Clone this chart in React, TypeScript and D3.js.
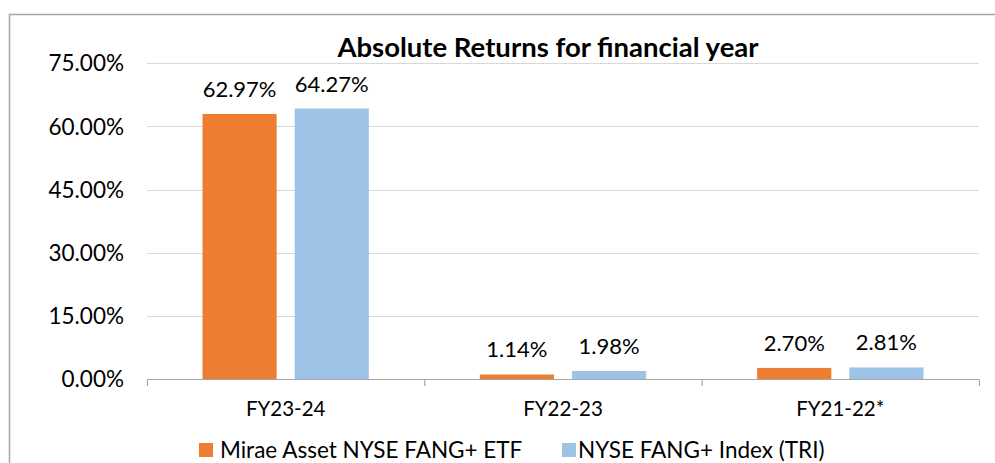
import React from 'react';
import * as d3 from 'd3';

const categories = ['FY23-24', 'FY22-23', 'FY21-22*'];
const seriesNames = ['Mirae Asset NYSE FANG+ ETF', 'NYSE FANG+ Index (TRI)'];
const etfValues = [62.97, 1.14, 2.7];
const indexValues = [64.27, 1.98, 2.81];
const yTicks = [0, 15, 30, 45, 60, 75];
const colors = ['#ED7D31', '#9DC3E6'];

const W = 995;
const H = 463;
const FONT = 'Lato, "Open Sans", sans-serif';

const App = () => {
  const x = d3.scaleBand().domain(categories).range([147, 979]).padding(0);
  const inner = d3
    .scaleBand()
    .domain(seriesNames)
    .range([55.5, x.bandwidth() - 55.5])
    .paddingInner(0.1957)
    .paddingOuter(0);
  const y = d3.scaleLinear().domain([0, 75]).range([379.3, 63.3]);

  const series = [etfValues, indexValues];
  const legendPos = [
    { sx: 199, tx: 220 },
    { sx: 562, tx: 578 },
  ];

  return (
    <svg width={W} height={H} style={{ position: 'absolute', left: 0, top: 0, display: 'block' }}>
      <rect x={0} y={0} width={W} height={H} fill="#fff" />
      <rect x={9.5} y={14.5} width={1100} height={600} fill="none" stroke="#A6A6A6" strokeWidth={1.5} />

      <text x={548} y={57} textAnchor="middle" fontFamily={FONT} fontWeight="bold" fontSize={27.5} fill="#000">
        Absolute Returns for financial year
      </text>

      {yTicks.map((t) => (
        <g key={t}>
          {t > 0 && (
            <line x1={147} x2={979} y1={Math.round(y(t)) + 0.5} y2={Math.round(y(t)) + 0.5} stroke="#D9D9D9" />
          )}
          <text
            x={124}
            y={y(t)}
            dy="0.36em"
            textAnchor="end"
            fontFamily={FONT}
            fontSize={22.5}
            fill="#000"
          >
            {t.toFixed(2)}%
          </text>
        </g>
      ))}

      {series.map((vals, si) =>
        categories.map((c, ci) => {
          const bx = (x(c) as number) + (inner(seriesNames[si]) as number);
          const v = vals[ci];
          return (
            <g key={`${si}-${ci}`}>
              <rect x={bx} y={y(v)} width={inner.bandwidth()} height={y(0) - y(v)} fill={colors[si]} />
              <text
                x={bx + inner.bandwidth() / 2}
                y={y(v) - 17}
                textAnchor="middle"
                fontFamily={FONT}
                fontSize={22}
                fill="#000"
              >
                {v.toFixed(2)}%
              </text>
            </g>
          );
        })
      )}

      <line x1={147} x2={979} y1={379.5} y2={379.5} stroke="#A6A6A6" strokeWidth={1.2} />
      {[...categories.map((c) => x(c) as number), 979].map((tx, i) => (
        <line key={i} x1={tx + 0.5} x2={tx + 0.5} y1={379.5} y2={386} stroke="#A6A6A6" strokeWidth={1.2} />
      ))}
      {categories.map((c) => (
        <text
          key={c}
          x={(x(c) as number) + x.bandwidth() / 2}
          y={416}
          textAnchor="middle"
          fontFamily={FONT}
          fontSize={20.5}
          fill="#000"
        >
          {c}
        </text>
      ))}

      {seriesNames.map((n, i) => (
        <g key={n}>
          <rect x={legendPos[i].sx} y={443} width={14} height={14} fill={colors[i]} />
          <text x={legendPos[i].tx} y={457.5} fontFamily={FONT} fontSize={22.5} fill="#000">
            {n}
          </text>
        </g>
      ))}
    </svg>
  );
};

export default App;
